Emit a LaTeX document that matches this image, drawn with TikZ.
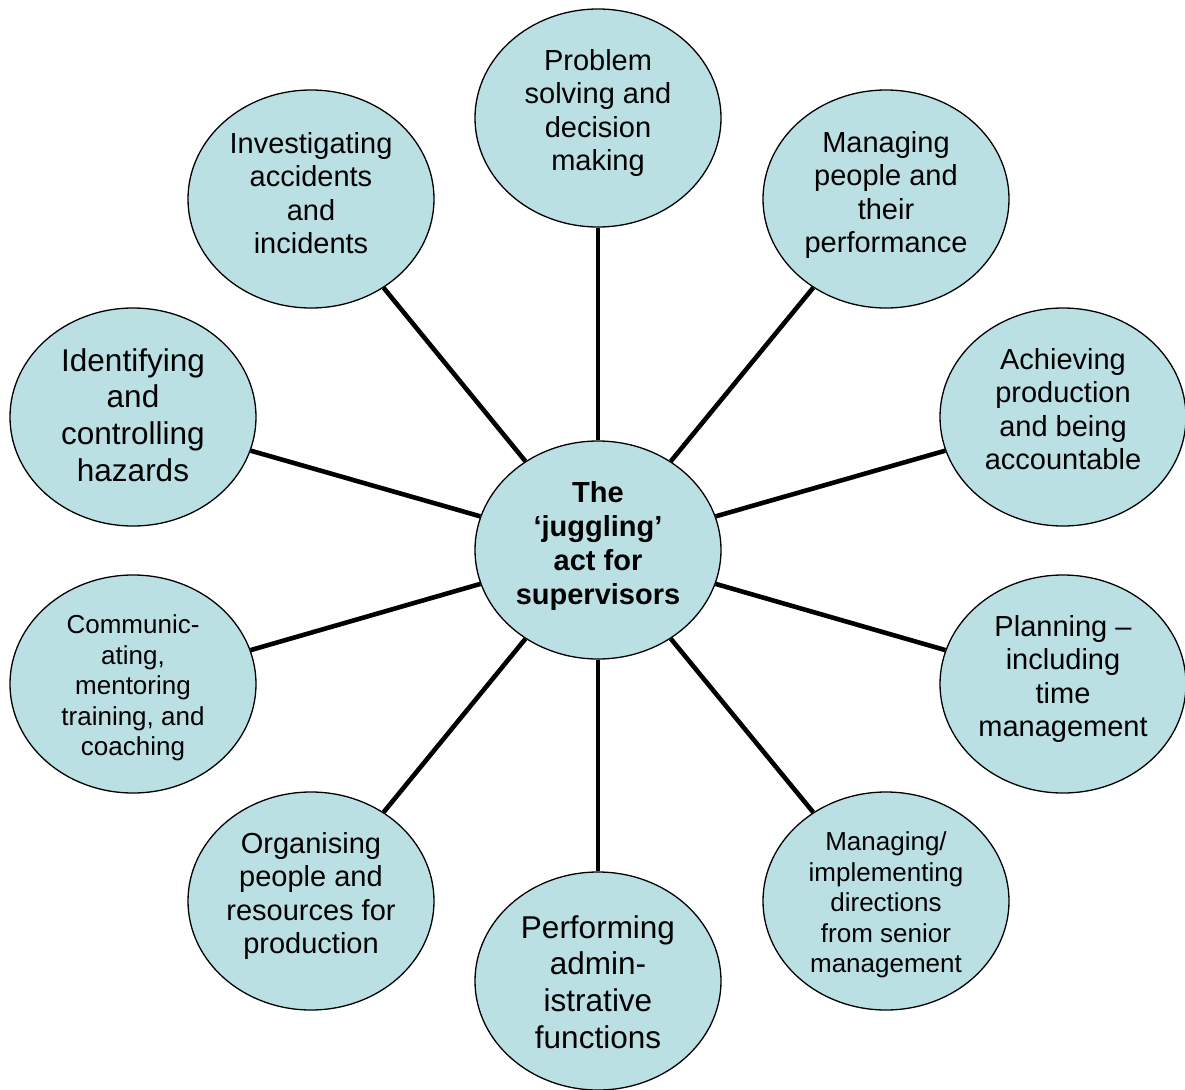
\documentclass[tikz,border=0pt]{standalone}
\usepackage{fontspec}
\setmainfont{Liberation Sans}
\usetikzlibrary{shapes.geometric,backgrounds}
\definecolor{bub}{RGB}{187,224,227}
\tikzset{
  bubble/.style={ellipse, draw=black, line width=1.3bp, fill=bub,
    minimum width=246bp, minimum height=218bp, inner sep=0pt},
  txt/.style={inner sep=0pt, align=center, font=\fontsize{29bp}{33.5bp}\selectfont},
  bigtext/.style={font=\fontsize{31.5bp}{36.8bp}\selectfont},
  smalltext/.style={font=\fontsize{26bp}{30.6bp}\selectfont},
  boldtext/.style={font=\fontsize{29bp}{34bp}\selectfont\bfseries},
  spoke/.style={line width=4.6bp, black}
}
\begin{document}
\begin{tikzpicture}[x=1bp,y=-1bp]
\useasboundingbox (0,0) rectangle (1185,1090);
\node[bubble] (c) at (598,550) {};
\node[bubble] (top) at (598,118) {};
\node[bubble] (tr) at (886,199) {};
\node[bubble] (r1) at (1063,417) {};
\node[bubble] (r2) at (1063,684) {};
\node[bubble] (br) at (886,901) {};
\node[bubble] (b) at (598,981) {};
\node[bubble] (bl) at (311,901) {};
\node[bubble] (l2) at (133,684) {};
\node[bubble] (l1) at (133,417) {};
\node[bubble] (tl) at (311,199) {};
\node[txt, boldtext, yshift=4bp] (c-t) at (c) {The\\‘juggling’\\act for\\supervisors};
\node[txt, yshift=5bp] (top-t) at (top) {Problem\\solving and\\decision\\making};
\node[txt, yshift=4bp] (tr-t) at (tr) {Managing\\people and\\their\\performance};
\node[txt, yshift=8bp] (r1-t) at (r1) {Achieving\\production\\and being\\accountable};
\node[txt, yshift=5bp] (r2-t) at (r2) {Planning –\\including\\time\\management};
\node[txt, smalltext, yshift=-4bp] (br-t) at (br) {Managing/\\implementing\\directions\\from senior\\management};
\node[txt, bigtext, yshift=-1bp] (b-t) at (b) {Performing\\admin-\\istrative\\functions};
\node[txt, yshift=5bp] (bl-t) at (bl) {Organising\\people and\\resources for\\production};
\node[txt, smalltext, yshift=-4bp] (l2-t) at (l2) {Communic-\\ating,\\mentoring\\training, and\\coaching};
\node[txt, bigtext, yshift=2bp] (l1-t) at (l1) {Identifying\\and\\controlling\\hazards};
\node[txt, yshift=6bp] (tl-t) at (tl) {Investigating\\accidents\\and\\incidents};
\begin{scope}[on background layer]
\foreach \n in {top,tr,r1,r2,br,b,bl,l2,l1,tl}
  \draw[spoke] (c) -- (\n);
\end{scope}
\end{tikzpicture}
\end{document}
